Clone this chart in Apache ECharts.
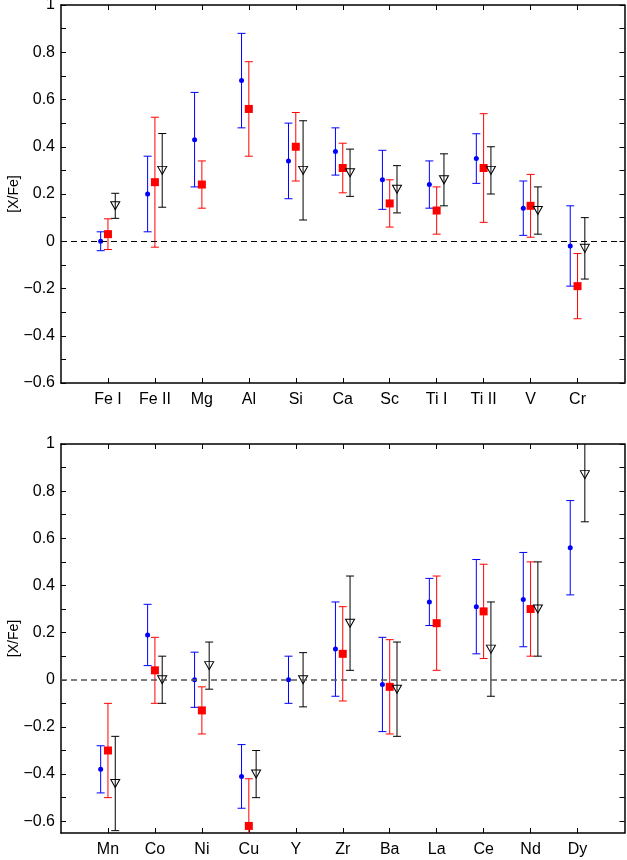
<!DOCTYPE html>
<html>
<head>
<meta charset="utf-8">
<script src="https://cdn.jsdelivr.net/npm/echarts@6/dist/echarts.min.js"></script>
<style>
html,body{margin:0;padding:0;background:#fff;}
#chart{width:627px;height:860px;}
</style>
</head>
<body>
<div id="chart"></div>
<script>
// ---- Data ----
const topCats = ['Fe I','Fe II','Mg','Al','Si','Ca','Sc','Ti I','Ti II','V','Cr'];
const topBlue     = [0.00, 0.20, 0.43, 0.68, 0.34, 0.38, 0.26, 0.24, 0.35, 0.14, -0.02];
const topBlueErr  = [0.04, 0.16, 0.20, 0.20, 0.16, 0.10, 0.125, 0.10, 0.105, 0.115, 0.17];
const topRed      = [0.03, 0.25, 0.24, 0.56, 0.40, 0.31, 0.16, 0.13, 0.31, 0.15, -0.19];
const topRedErr   = [0.065, 0.275, 0.10, 0.20, 0.145, 0.105, 0.10, 0.10, 0.23, 0.133, 0.138];
const topBlack    = [0.15, 0.30, null, null, 0.30, 0.29, 0.22, 0.26, 0.30, 0.13, -0.03];
const topBlackErr = [0.053, 0.156, null, null, 0.21, 0.10, 0.10, 0.11, 0.10, 0.10, 0.13];

const botCats = ['Mn','Co','Ni','Cu','Y','Zr','Ba','La','Ce','Nd','Dy'];
const botBlue     = [-0.38, 0.19, 0.00, -0.41, 0.00, 0.13, -0.02, 0.33, 0.31, 0.34, 0.56];
const botBlueErr  = [0.10, 0.13, 0.117, 0.135, 0.10, 0.20, 0.20, 0.10, 0.20, 0.20, 0.20];
const botRed      = [-0.30, 0.04, -0.13, -0.62, null, 0.11, -0.03, 0.24, 0.29, 0.30, null];
const botRedErr   = [0.20, 0.14, 0.10, 0.20, null, 0.20, 0.20, 0.20, 0.20, 0.20, null];
const botBlack    = [-0.44, 0.00, 0.06, -0.40, 0.00, 0.24, -0.04, null, 0.13, 0.30, 0.87];
const botBlackErr = [0.20, 0.10, 0.10, 0.10, 0.115, 0.20, 0.20, null, 0.20, 0.20, 0.20];

// tick labels
const yLabelValues = [-0.6, -0.4, -0.2, 0, 0.2, 0.4, 0.6, 0.8, 1];
const yTickValues = [-0.6, -0.5, -0.4, -0.3, -0.2, -0.1, 0, 0.1, 0.2, 0.3, 0.4, 0.5, 0.6, 0.7, 0.8, 0.9, 1];
const xTickValues = [1, 2, 3, 4, 5, 6, 7, 8, 9, 10, 11];

// ---- Styling ----
const FONT = 'Liberation Sans, Arial, Helvetica, sans-serif';
const BLUE = '#0000ff', RED = '#ff0000', BLACK = '#000000';
const OFF = 7.3; // pixel offset of side markers
const panels = [
  {cats: topCats, ymin: -0.6, ymax: 1, top: 5, height: 378,
   blue: topBlue, blueErr: topBlueErr, red: topRed, redErr: topRedErr, black: topBlack, blackErr: topBlackErr, zeroColor: '#000'},
  {cats: botCats, ymin: -0.65, ymax: 1, top: 444, height: 389,
   blue: botBlue, blueErr: botBlueErr, red: botRed, redErr: botRedErr, black: botBlack, blackErr: botBlackErr, zeroColor: '#555'}
];

function fmt(v) {
  const s = String(+v.toFixed(2));
  return s.replace('-', '\u2212');
}

function pts(vals, errs) {
  const out = [];
  vals.forEach((v, i) => { if (v !== null) out.push([i + 1, v, errs[i]]); });
  return out;
}

function errRender(off, ymin, ymax) {
  return function (params, api) {
    const x = api.value(0), y = api.value(1), e = api.value(2);
    const lo = y - e, hi = y + e;
    const loC = Math.max(lo, ymin), hiC = Math.min(hi, ymax);
    const pLo = api.coord([x, loC]), pHi = api.coord([x, hiC]);
    const cx = pLo[0] + off;
    const half = 4;
    const style = {stroke: api.visual('color'), lineWidth: 1};
    const ch = [{type: 'line', shape: {x1: cx, y1: pLo[1], x2: cx, y2: pHi[1]}, style}];
    if (hi <= ymax) ch.push({type: 'line', shape: {x1: cx - half, y1: pHi[1], x2: cx + half, y2: pHi[1]}, style});
    if (lo >= ymin) ch.push({type: 'line', shape: {x1: cx - half, y1: pLo[1], x2: cx + half, y2: pLo[1]}, style});
    return {type: 'group', children: ch};
  };
}

const grid = [], xAxis = [], yAxis = [], series = [];
panels.forEach((p, k) => {
  grid.push({left: 61, right: 2.5, top: p.top, height: p.height, containLabel: false, outerBoundsMode: 'none'});
  const axLine = {show: true, onZero: false, lineStyle: {color: '#000', width: 1.5}};
  const tick = {show: true, inside: true, length: 5, lineStyle: {color: '#000', width: 1}};
  xAxis.push({
    type: 'value', gridIndex: k, min: 0, max: 12, position: 'bottom',
    axisLine: axLine, splitLine: {show: false},
    axisTick: Object.assign({customValues: xTickValues}, tick),
    axisLabel: {customValues: xTickValues, margin: 9, color: '#000', fontFamily: FONT, fontSize: 16,
      formatter: v => p.cats[Math.round(v) - 1] || ''}
  });
  xAxis.push({
    type: 'value', gridIndex: k, min: 0, max: 12, position: 'top',
    axisLine: axLine, splitLine: {show: false},
    axisTick: Object.assign({customValues: xTickValues}, tick),
    axisLabel: {show: false}
  });
  yAxis.push({
    type: 'value', gridIndex: k, min: p.ymin, max: p.ymax, position: 'left',
    name: '[X/Fe]', nameLocation: 'middle', nameGap: 40, nameMoveOverlap: false,
    nameTextStyle: {color: '#000', fontFamily: FONT, fontSize: 14},
    axisLine: axLine, splitLine: {show: false},
    axisTick: Object.assign({customValues: yTickValues}, tick),
    axisLabel: {customValues: yLabelValues, margin: 6, color: '#000', fontFamily: FONT, fontSize: 16, formatter: fmt}
  });
  yAxis.push({
    type: 'value', gridIndex: k, min: p.ymin, max: p.ymax, position: 'right',
    axisLine: axLine, splitLine: {show: false},
    axisTick: Object.assign({customValues: yTickValues}, tick),
    axisLabel: {show: false}
  });
  const xi = 2 * k, yi = 2 * k;
  const sets = [
    {vals: p.blue, errs: p.blueErr, color: BLUE, off: -OFF, symbol: 'circle', size: 5, fill: BLUE, border: BLUE, rot: 0},
    {vals: p.red, errs: p.redErr, color: RED, off: 0, symbol: 'rect', size: 8, fill: RED, border: RED, rot: 0},
    {vals: p.black, errs: p.blackErr, color: BLACK, off: OFF, symbol: 'triangle', size: [9, 8], fill: 'rgba(0,0,0,0)', border: BLACK, rot: 180}
  ];
  // zero dashed line
  series.push({
    type: 'line', xAxisIndex: xi, yAxisIndex: yi, data: [], silent: true,
    markLine: {silent: true, symbol: ['none', 'none'], label: {show: false},
      lineStyle: {color: p.zeroColor, type: [6, 4], width: k === 0 ? 1 : 1.5},
      data: [{yAxis: 0}], animation: false}
  });
  sets.forEach(s => {
    series.push({
      type: 'custom', xAxisIndex: xi, yAxisIndex: yi, clip: true,
      itemStyle: {color: s.color},
      renderItem: errRender(s.off, p.ymin, p.ymax),
      encode: {x: 0, y: 1},
      data: pts(s.vals, s.errs), z: 2
    });
  });
  sets.forEach(s => {
    series.push({
      type: 'scatter', xAxisIndex: xi, yAxisIndex: yi,
      symbol: s.symbol, symbolSize: s.size, symbolRotate: s.rot, symbolOffset: [s.off, 0],
      itemStyle: {color: s.fill, borderColor: s.border, borderWidth: s.symbol === 'triangle' ? 1 : 0, opacity: 1},
      data: pts(s.vals, s.errs).map(d => [d[0], d[1]]), z: 3
    });
  });
});

const chart = echarts.init(document.getElementById('chart'), null, {renderer: 'canvas'});
chart.setOption({animation: false, backgroundColor: '#fff', grid, xAxis, yAxis, series});
</script>
</body>
</html>
